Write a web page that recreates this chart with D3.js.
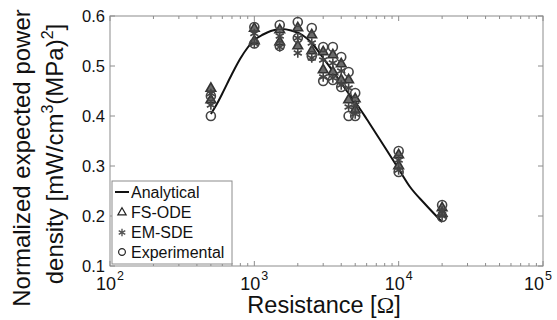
<!DOCTYPE html>
<html><head><meta charset="utf-8">
<script src="https://cdn.jsdelivr.net/npm/d3@7"></script>
<style>
html,body{margin:0;padding:0;background:#fff;}
svg{display:block;font-family:"Liberation Sans",Arial,sans-serif;}
</style></head>
<body><svg id="c" width="557" height="320"></svg>
<script>
// Resistances (Ohm) of the measured points
const resistances = [500, 1000, 1500, 2000, 2500, 3000, 3500, 4000, 4500, 5000, 10000, 20000];
// Analytical curve
const analyticalR = [500, 550, 600, 700, 800, 900, 1000, 1150, 1300, 1550, 1800, 2150, 2500, 3000, 3500, 4000, 4500, 5000, 6000, 7000, 8000, 10000, 12000, 15000, 20000];
const analyticalV = [0.404, 0.424, 0.445, 0.484, 0.515, 0.537, 0.552, 0.563, 0.570, 0.574, 0.571, 0.562, 0.546, 0.516, 0.490, 0.466, 0.445, 0.428, 0.394, 0.364, 0.338, 0.294, 0.258, 0.226, 0.188];
// FS-ODE (two runs)
const fsodeA = [0.455, 0.575, 0.572, 0.576, 0.562, 0.528, 0.522, 0.504, 0.472, 0.434, 0.322, 0.216];
const fsodeB = [0.432, 0.550, 0.548, 0.540, 0.530, 0.492, 0.488, 0.472, 0.432, 0.412, 0.300, 0.205];
// EM-SDE (two runs)
const emsdeA = [0.445, 0.565, 0.560, 0.556, 0.546, 0.512, 0.506, 0.490, 0.456, 0.422, 0.312, 0.210];
const emsdeB = [0.422, 0.545, 0.538, 0.526, 0.516, 0.478, 0.476, 0.462, 0.418, 0.404, 0.292, 0.200];
// Experimental (two runs)
const expA = [0.440, 0.578, 0.582, 0.588, 0.576, 0.538, 0.538, 0.518, 0.488, 0.446, 0.330, 0.222];
const expB = [0.400, 0.545, 0.540, 0.556, 0.520, 0.470, 0.472, 0.458, 0.400, 0.400, 0.288, 0.198];
const yTicks = [0.1, 0.2, 0.3, 0.4, 0.5, 0.6];
const xTickExps = [2, 3, 4, 5];
const legendLabels = ["Analytical", "FS-ODE", "EM-SDE", "Experimental"];

const svg = d3.select("#c");
const L = 110, R = 543, T = 16, B = 266;
const x = d3.scaleLog().domain([100, 100000]).range([L, R]);
const y = d3.scaleLinear().domain([0.1, 0.6]).range([B, T]);
const axisCol = "#8c8c8c";

// frame
svg.append("rect").attr("x", L).attr("y", T).attr("width", R - L).attr("height", B - T)
  .attr("fill", "none").attr("stroke", axisCol).attr("stroke-width", 1);

// x ticks (log, inward, top and bottom)
x.ticks().forEach(v => {
  const major = Math.abs(Math.log10(v) - Math.round(Math.log10(v))) < 1e-9;
  const len = major ? 5 : 3;
  const px = x(v);
  svg.append("line").attr("x1", px).attr("x2", px).attr("y1", B).attr("y2", B - len).attr("stroke", axisCol);
  svg.append("line").attr("x1", px).attr("x2", px).attr("y1", T).attr("y2", T + len).attr("stroke", axisCol);
});
// y ticks
yTicks.forEach(v => {
  svg.append("line").attr("x1", L).attr("x2", L + 5).attr("y1", y(v)).attr("y2", y(v)).attr("stroke", axisCol);
  svg.append("line").attr("x1", R).attr("x2", R - 5).attr("y1", y(v)).attr("y2", y(v)).attr("stroke", axisCol);
  svg.append("text").attr("x", 105).attr("y", y(v)).attr("dy", "0.36em").attr("text-anchor", "end")
    .attr("font-size", 16.5).attr("fill", "#111").text(v.toFixed(1));
});
// x tick labels (base and exponent as separate texts)
xTickExps.forEach((e, i) => {
  const cx = x(Math.pow(10, e)) + (i === xTickExps.length - 1 ? -3 : 2);
  svg.append("text").attr("x", cx + 4).attr("y", 290).attr("text-anchor", "end")
    .attr("font-size", 18).attr("fill", "#111").text("10");
  svg.append("text").attr("x", cx + 5).attr("y", 280).attr("text-anchor", "start")
    .attr("font-size", 12.5).attr("fill", "#111").text(e);
});
// x label
const xl = svg.append("text").attr("x", 324).attr("y", 313).attr("text-anchor", "middle")
  .attr("font-size", 23.5).attr("fill", "#111");
xl.append("tspan").text("Resistance [");
xl.append("tspan").attr("font-family", "'Liberation Serif','DejaVu Serif',serif").text("Ω");
xl.append("tspan").text("]");
// y label
svg.append("text").attr("transform", "translate(30,158) rotate(-90)").attr("text-anchor", "middle")
  .attr("font-size", 24).attr("fill", "#111").text("Normalized expected power");
const yl2 = svg.append("text").attr("transform", "translate(63,154) rotate(-90)").attr("text-anchor", "middle")
  .attr("font-size", 24).attr("fill", "#111");
yl2.append("tspan").text("density [mW/cm");
yl2.append("tspan").attr("dy", -10).attr("font-size", 16).text("3");
yl2.append("tspan").attr("dy", 10).text("(MPa)");
yl2.append("tspan").attr("dy", -10).attr("font-size", 16).text("2");
yl2.append("tspan").attr("dy", 10).text("]");

// analytical curve
const line = d3.line().x(d => x(d[0])).y(d => y(d[1])).curve(d3.curveMonotoneX);
svg.append("path").datum(analyticalR.map((r, i) => [r, analyticalV[i]]))
  .attr("d", line).attr("fill", "none").attr("stroke", "#111").attr("stroke-width", 2);

// markers
const tri = d3.symbol().type(d3.symbolTriangle).size(40);
const ast = d3.symbol().type(d3.symbolAsterisk).size(60);
const cir = d3.symbol().type(d3.symbolCircle).size(64);
function drawSeries(vals, sym, fill, stroke) {
  svg.append("g").selectAll("path").data(resistances.map((r, i) => [r, vals[i]])).join("path")
    .attr("transform", d => `translate(${x(d[0])},${y(d[1])})`)
    .attr("d", sym).attr("fill", fill).attr("stroke", stroke).attr("stroke-width", 1.6);
}
drawSeries(fsodeA, tri, "#6a6a6a", "#333"); drawSeries(fsodeB, tri, "#6a6a6a", "#333");
drawSeries(emsdeA, ast, "none", "#444"); drawSeries(emsdeB, ast, "none", "#444");
drawSeries(expA, cir, "none", "#444"); drawSeries(expB, cir, "none", "#444");

// legend
const lg = svg.append("g");
lg.append("rect").attr("x", 112).attr("y", 181).attr("width", 120).attr("height", 83)
  .attr("fill", "#fff").attr("stroke", axisCol);
const rowY = [192, 212.5, 232.5, 252];
legendLabels.forEach((lab, i) => {
  lg.append("text").attr("x", 131).attr("y", rowY[i]).attr("dy", "0.36em").attr("font-size", 16)
    .attr("fill", "#111").text(lab);
});
lg.append("line").attr("x1", 115).attr("x2", 129).attr("y1", rowY[0]).attr("y2", rowY[0]).attr("stroke", "#111").attr("stroke-width", 2);
lg.append("path").attr("transform", `translate(122,${rowY[1]})`).attr("d", d3.symbol().type(d3.symbolTriangle).size(30))
  .attr("fill", "none").attr("stroke", "#222").attr("stroke-width", 1.2);
lg.append("path").attr("transform", `translate(122,${rowY[2]})`).attr("d", d3.symbol().type(d3.symbolAsterisk).size(40))
  .attr("fill", "none").attr("stroke", "#555").attr("stroke-width", 1.4);
lg.append("path").attr("transform", `translate(122,${rowY[3]})`).attr("d", d3.symbol().type(d3.symbolCircle).size(36))
  .attr("fill", "none").attr("stroke", "#222").attr("stroke-width", 1.2);
</script></body></html>
